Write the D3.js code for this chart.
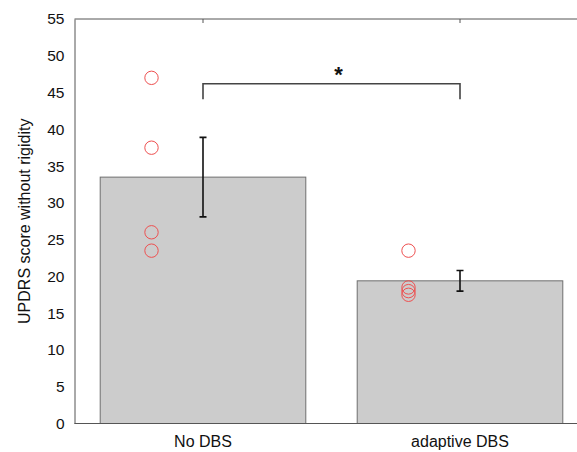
<!DOCTYPE html>
<html>
<head>
<meta charset="utf-8">
<script src="https://cdn.jsdelivr.net/npm/d3@7"></script>
<style>
  body { margin: 0; background: #fff; }
  text { font-family: "Liberation Sans", Arial, sans-serif; fill: #111; }
</style>
</head>
<body>
<div id="viz"></div>
<script>
// data
var groups = ["No DBS", "adaptive DBS"]
var means = [33.5, 19.4]
var errors = [5.4, 1.4]
var subjects_noDBS = [47, 37.5, 26, 23.5]
var subjects_aDBS = [23.5, 18.5, 18, 17.5]
var yticks = [0, 5, 10, 15, 20, 25, 30, 35, 40, 45, 50, 55]
var bracket = { y: 46.2, drop: 2.1, label: "*" }

var width = 577, height = 452
var plot_left = 74.5, plot_top = 19, plot_bottom = 423.5, plot_right = 588.5
var axis_colour = "#555555"

var svg = d3.select("#viz")
  .append("svg")
  .attr("width", width)
  .attr("height", height);

var x = d3.scaleBand()
  .domain(groups)
  .range([plot_left, plot_right])
  .paddingInner(0.2)
  .paddingOuter(0.1);

var y = d3.scaleLinear()
  .domain([0, 55])
  .range([plot_bottom, plot_top]);

var cx = function(g) { return x(g) + x.bandwidth() / 2; };

// bars
svg.selectAll(".bar")
  .data(groups)
  .enter().append("rect")
  .attr("x", function(d) { return x(d); })
  .attr("y", function(d, i) { return y(means[i]); })
  .attr("width", x.bandwidth())
  .attr("height", function(d, i) { return y(0) - y(means[i]); })
  .attr("fill", "#cccccc")
  .attr("stroke", "#6e6e6e")
  .attr("stroke-width", 1);

// axes: left, bottom, top (frame is open on the right, cut off)
var yAxis = d3.axisLeft(y).tickValues(yticks).tickSize(0).tickPadding(10);
var gy = svg.append("g")
  .attr("transform", "translate(" + plot_left + ",0)")
  .call(yAxis);
gy.select(".domain").attr("stroke", axis_colour);
gy.selectAll("text").style("font-size", "15.5px").attr("fill", "#111");

var gb = svg.append("g")
  .attr("transform", "translate(0," + plot_bottom + ")")
  .call(d3.axisBottom(x).tickSize(0).tickPadding(12).tickSizeOuter(0));
gb.select(".domain").attr("stroke", axis_colour).attr("d", "M" + plot_left + ",0H" + plot_right);
gb.selectAll("text").style("font-size", "16px").attr("fill", "#111");

var gt = svg.append("g")
  .attr("transform", "translate(0," + plot_top + ")")
  .call(d3.axisBottom(x).tickSize(4).tickSizeOuter(0));
gt.select(".domain").attr("stroke", axis_colour).attr("d", "M" + plot_left + ",0H" + plot_right);
gt.selectAll(".tick line").attr("stroke", axis_colour);
gt.selectAll("text").remove();

// individual subjects
var xoff = -51.5
svg.selectAll(".s1")
  .data(subjects_noDBS)
  .enter().append("circle")
  .attr("cx", cx(groups[0]) + xoff)
  .attr("cy", function(d) { return y(d); })
  .attr("r", 6.7)
  .attr("fill", "none")
  .attr("stroke", "#ee5050")
  .attr("stroke-width", 1);

svg.selectAll(".s2")
  .data(subjects_aDBS)
  .enter().append("circle")
  .attr("cx", cx(groups[1]) + xoff)
  .attr("cy", function(d) { return y(d); })
  .attr("r", 6.7)
  .attr("fill", "none")
  .attr("stroke", "#ee5050")
  .attr("stroke-width", 1);

// error bars
var eb = svg.selectAll(".err")
  .data(groups)
  .enter().append("g");
eb.append("path")
  .attr("d", function(d, i) {
    var xc = cx(d), y1 = y(means[i] + errors[i]), y2 = y(means[i] - errors[i]);
    return "M" + xc + " " + y1 + " L" + xc + " " + y2 +
      " M" + (xc - 3.5) + " " + y1 + " L" + (xc + 3.5) + " " + y1 +
      " M" + (xc - 3.5) + " " + y2 + " L" + (xc + 3.5) + " " + y2;
  })
  .attr("stroke", "#111")
  .attr("stroke-width", 1.6)
  .attr("fill", "none");

// significance bracket
var bx1 = cx(groups[0]), bx2 = cx(groups[1]);
svg.append("path")
  .attr("d", "M" + bx1 + " " + y(bracket.y - bracket.drop) + " L" + bx1 + " " + y(bracket.y) +
    " L" + bx2 + " " + y(bracket.y) + " L" + bx2 + " " + y(bracket.y - bracket.drop))
  .attr("stroke", "#444")
  .attr("stroke-width", 1.6)
  .attr("fill", "none");
svg.append("text")
  .attr("x", (bx1 + bx2) / 2 + 7)
  .attr("y", y(bracket.y) - 2)
  .attr("text-anchor", "middle")
  .style("font-size", "22px")
  .style("font-weight", "bold")
  .text(bracket.label);

// y label
svg.append("text")
  .attr("transform", "translate(30," + ((plot_top + plot_bottom) / 2) + ") rotate(-90)")
  .attr("text-anchor", "middle")
  .style("font-size", "16px")
  .text("UPDRS score without rigidity");
</script>
</body>
</html>
